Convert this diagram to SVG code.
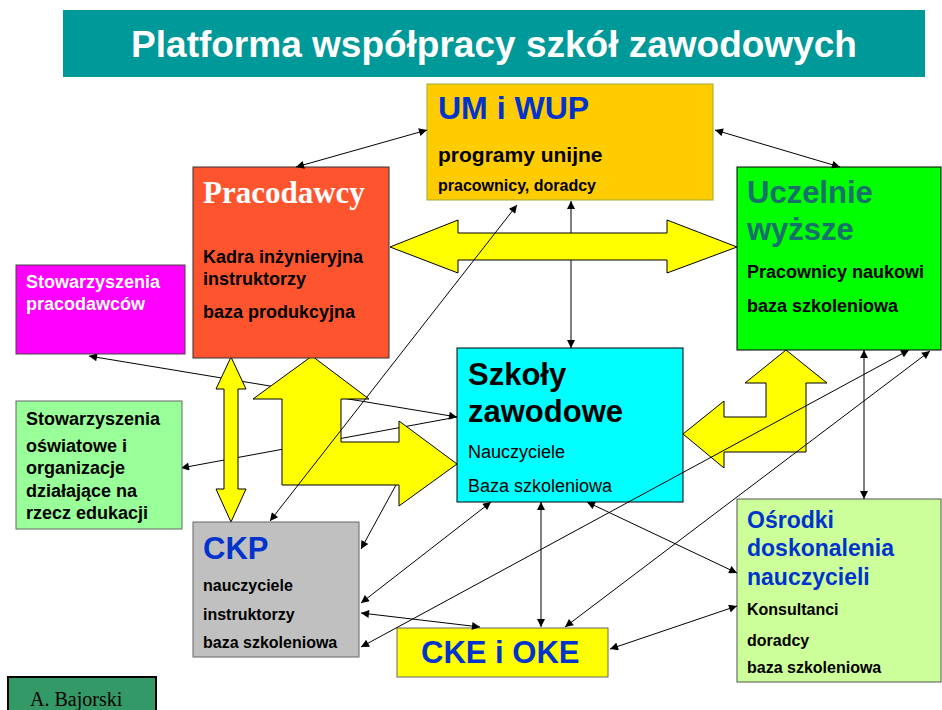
<svg xmlns="http://www.w3.org/2000/svg" width="942" height="710" viewBox="0 0 942 710">
<defs>
<marker id="ah" viewBox="0 0 10 10" refX="10" refY="5" markerWidth="10" markerHeight="8" markerUnits="userSpaceOnUse" orient="auto-start-reverse">
<path d="M0,0 L10,5 L0,10 z" fill="#000"/>
</marker>
<style>
.ln{stroke:#000;stroke-width:1;fill:none}
.both{marker-start:url(#ah);marker-end:url(#ah)}
.end{marker-end:url(#ah)}
.ya{fill:#FFFF00;stroke:#000;stroke-width:1}
.b{font-family:"Liberation Sans",Arial,sans-serif;font-weight:bold}
.r{font-family:"Liberation Sans",Arial,sans-serif}
.blue{fill:#0033CC}
</style>
</defs>
<rect width="942" height="710" fill="#fff"/>
<g id="title">
<rect x="63" y="10" width="862" height="67" fill="#009999"/>
<text x="494" y="57" text-anchor="middle" class="b" font-size="37" fill="#fff">Platforma współpracy szkół zawodowych</text>
</g>
<g id="connectors-under">
<line class="ln both" x1="89" y1="356" x2="457" y2="417"/>
<line class="ln" x1="181" y1="468" x2="457" y2="417" style="marker-start:url(#ah)"/>
<line class="ln both" x1="571" y1="201" x2="571" y2="348"/>
<line class="ln end" x1="402" y1="474" x2="361" y2="549"/>
</g>
<g id="big-arrows">
<polygon class="ya" points="390,247 458,220 458,233 667,233 667,220 737,247 667,273 667,260 458,260 458,273"/>
<polygon class="ya" points="231,357 246,389 238,389 238,489 246,489 231,522 216,489 224,489 224,389 216,389"/>
<polygon class="ya" points="312,356 369,399 341,399 341,442 399,442 399,421 457,464 399,506 399,485 282,485 282,399 253,399"/>
<polygon class="ya" points="786,350 827,383 806,383 806,452 724,452 724,468 683,434 724,401 724,417 766,417 766,383 745,383"/>
</g>
<g id="um-wup">
<rect x="427" y="84" width="286" height="116" fill="#FFCC00" stroke="#99AA33"/>
<text x="438" y="119" class="b blue" font-size="32">UM i WUP</text>
<text x="438" y="162" class="b" font-size="21">programy unijne</text>
<text x="438" y="191" class="b" font-size="16">pracownicy, doradcy</text>
</g>
<g id="pracodawcy">
<rect x="193" y="167" width="196" height="191" fill="#FF552E" stroke="#333"/>
<text x="203" y="203" font-family="'Liberation Serif','Times New Roman',serif" font-weight="bold" font-size="31" fill="#fff">Pracodawcy</text>
<text x="203" y="263" class="b" font-size="18">Kadra inżynieryjna</text>
<text x="203" y="285" class="b" font-size="18">instruktorzy</text>
<text x="203" y="318" class="b" font-size="18">baza produkcyjna</text>
</g>
<g id="uczelnie">
<rect x="737" y="167" width="204" height="183" fill="#00FF00" stroke="#000"/>
<text x="747" y="203" class="b" font-size="31" fill="#17706A">Uczelnie</text>
<text x="747" y="240" class="b" font-size="31" fill="#17706A">wyższe</text>
<text x="747" y="278" class="b" font-size="18">Pracownicy naukowi</text>
<text x="747" y="312" class="b" font-size="18">baza szkoleniowa</text>
</g>
<g id="stow-pracodawcow">
<rect x="16" y="265" width="169" height="89" fill="#FF00FF" stroke="#444"/>
<text x="26" y="288" class="b" font-size="18" fill="#fff">Stowarzyszenia</text>
<text x="26" y="310" class="b" font-size="18" fill="#fff">pracodawców</text>
</g>
<g id="stow-oswiatowe">
<rect x="16" y="401" width="166" height="128" fill="#99FF99" stroke="#666"/>
<text x="26" y="425" class="b" font-size="18">Stowarzyszenia</text>
<text x="26" y="452" class="b" font-size="18">oświatowe i</text>
<text x="26" y="474" class="b" font-size="18">organizacje</text>
<text x="26" y="497" class="b" font-size="18">działające na</text>
<text x="26" y="519" class="b" font-size="18">rzecz edukacji</text>
</g>
<g id="szkoly">
<rect x="457" y="348" width="226" height="154" fill="#00FFFF" stroke="#000"/>
<text x="468" y="385" class="b" font-size="31">Szkoły</text>
<text x="468" y="422" class="b" font-size="31">zawodowe</text>
<text x="468" y="458" class="r" font-size="18">Nauczyciele</text>
<text x="468" y="492" class="r" font-size="18">Baza szkoleniowa</text>
</g>
<g id="ckp">
<rect x="193" y="522" width="166" height="135" fill="#C0C0C0" stroke="#666"/>
<text x="203" y="559" class="b blue" font-size="31">CKP</text>
<text x="203" y="591" class="b" font-size="16">nauczyciele</text>
<text x="203" y="620" class="b" font-size="16">instruktorzy</text>
<text x="203" y="648" class="b" font-size="16">baza szkoleniowa</text>
</g>
<g id="cke-oke">
<rect x="397" y="628" width="211" height="49" fill="#FFFF00" stroke="#666"/>
<text x="421" y="663" class="b blue" font-size="31">CKE i OKE</text>
</g>
<g id="osrodki">
<rect x="737" y="499" width="204" height="183" fill="#CCFF99" stroke="#555"/>
<text x="747" y="528" class="b blue" font-size="23">Ośrodki</text>
<text x="747" y="556" class="b blue" font-size="23">doskonalenia</text>
<text x="747" y="585" class="b blue" font-size="23">nauczycieli</text>
<text x="747" y="615" class="b" font-size="16">Konsultanci</text>
<text x="747" y="646" class="b" font-size="16">doradcy</text>
<text x="747" y="673" class="b" font-size="16">baza szkoleniowa</text>
</g>
<g id="author">
<rect x="8" y="677" width="148" height="40" fill="#339966" stroke="#000" stroke-width="2"/>
<text x="30" y="706" font-family="'Liberation Serif','Times New Roman',serif" font-size="20" fill="#000">A. Bajorski</text>
</g>
<g id="connectors">
<line class="ln both" x1="296" y1="167" x2="427" y2="130"/>
<line class="ln both" x1="715" y1="130" x2="840" y2="167"/>
<line class="ln both" x1="517" y1="205" x2="270" y2="521"/>
<line class="ln both" x1="864" y1="350" x2="864" y2="499"/>
<line class="ln both" x1="909" y1="350" x2="361" y2="647"/>
<line class="ln both" x1="930" y1="351" x2="565" y2="627"/>
<line class="ln both" x1="491" y1="502" x2="361" y2="603"/>
<line class="ln both" x1="541" y1="502" x2="541" y2="627"/>
<line class="ln both" x1="587" y1="502" x2="737" y2="573"/>
<line class="ln both" x1="737" y1="606" x2="610" y2="649"/>
<line class="ln both" x1="361" y1="613" x2="480" y2="627"/>
</g>
</svg>
